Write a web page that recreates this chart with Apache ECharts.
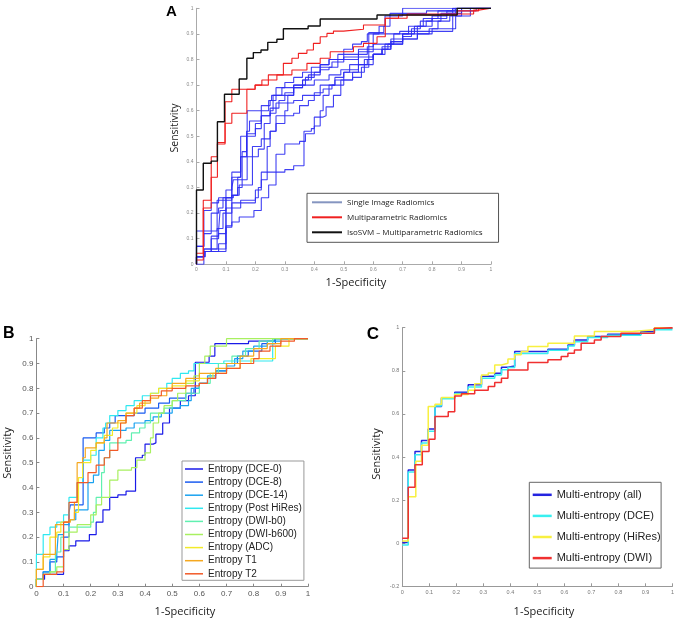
<!DOCTYPE html>
<html><head><meta charset="utf-8">
<script src="https://cdn.jsdelivr.net/npm/echarts@6/dist/echarts.min.js"></script>
<style>html,body{margin:0;padding:0;background:#fff}#c{width:677px;height:620px}</style>
</head><body><div id="c"></div><script>
// ---- Panel B entropy ROC curves (also the blue single-image curves of panel A) ----
const dce0 = [[0,0],[0,0.03],[0.03,0.05],[0.1,0.145],[0.12,0.165],[0.145,0.185],[0.195,0.21],[0.22,0.26],[0.245,0.31],[0.27,0.36],[0.3,0.37],[0.33,0.385],[0.365,0.41],[0.365,0.52],[0.39,0.53],[0.4,0.575],[0.43,0.58],[0.44,0.615],[0.465,0.66],[0.49,0.72],[0.53,0.75],[0.56,0.77],[0.585,0.81],[0.585,0.905],[0.636,0.93],[0.657,0.98],[0.781,0.99],[0.878,1],[1,1]];
const dce8 = [[0,0],[0,0.03],[0.025,0.06],[0.05,0.1],[0.075,0.12],[0.1,0.2],[0.12,0.3],[0.125,0.33],[0.172,0.6],[0.22,0.62],[0.25,0.64],[0.27,0.66],[0.29,0.69],[0.36,0.7],[0.4,0.72],[0.45,0.74],[0.49,0.76],[0.55,0.78],[0.58,0.8],[0.6,0.82],[0.63,0.84],[0.66,0.87],[0.7,0.9],[0.74,0.93],[0.78,0.95],[0.83,0.98],[0.88,1],[1,1]];
const dce14 = [[0,0],[0,0.03],[0.025,0.06],[0.05,0.11],[0.075,0.13],[0.08,0.21],[0.1,0.25],[0.12,0.27],[0.145,0.31],[0.17,0.31],[0.19,0.42],[0.21,0.45],[0.23,0.55],[0.25,0.59],[0.27,0.63],[0.33,0.64],[0.36,0.66],[0.4,0.67],[0.43,0.685],[0.46,0.7],[0.5,0.72],[0.53,0.73],[0.56,0.75],[0.57,0.8],[0.6,0.82],[0.63,0.85],[0.66,0.87],[0.7,0.89],[0.73,0.92],[0.76,0.95],[0.8,0.97],[0.85,0.99],[0.9,1],[1,1]];
const postHiRes = [[0,0],[0,0.13],[0.025,0.21],[0.05,0.24],[0.075,0.26],[0.1,0.29],[0.12,0.36],[0.14,0.36],[0.15,0.42],[0.17,0.51],[0.2,0.53],[0.22,0.6],[0.245,0.64],[0.255,0.66],[0.27,0.69],[0.3,0.71],[0.33,0.73],[0.36,0.75],[0.39,0.77],[0.42,0.78],[0.45,0.8],[0.48,0.82],[0.5,0.84],[0.53,0.86],[0.56,0.87],[0.58,0.9],[0.69,0.91],[0.87,1],[1,1]];
const dwiB0 = [[0,0],[0,0.03],[0.025,0.05],[0.05,0.06],[0.07,0.14],[0.09,0.2],[0.1,0.22],[0.12,0.24],[0.2,0.26],[0.21,0.3],[0.22,0.36],[0.24,0.46],[0.25,0.52],[0.27,0.58],[0.33,0.59],[0.35,0.62],[0.38,0.64],[0.4,0.66],[0.42,0.7],[0.47,0.72],[0.5,0.75],[0.55,0.78],[0.6,0.82],[0.64,0.86],[0.67,0.9],[0.72,0.93],[0.77,0.96],[0.82,0.99],[0.87,1],[1,1]];
const dwiB600 = [[0,0],[0,0.03],[0.025,0.05],[0.05,0.06],[0.075,0.08],[0.1,0.15],[0.12,0.22],[0.15,0.25],[0.2,0.29],[0.22,0.33],[0.24,0.36],[0.27,0.36],[0.27,0.43],[0.3,0.47],[0.35,0.48],[0.37,0.51],[0.4,0.54],[0.42,0.6],[0.43,0.66],[0.45,0.7],[0.47,0.73],[0.5,0.75],[0.52,0.78],[0.55,0.82],[0.58,0.85],[0.6,0.9],[0.62,0.93],[0.64,0.97],[0.7,1],[1,1]];
const adc = [[0,0],[0,0.07],[0.025,0.12],[0.05,0.2],[0.075,0.22],[0.09,0.26],[0.12,0.27],[0.14,0.3],[0.155,0.44],[0.17,0.5],[0.2,0.55],[0.22,0.58],[0.25,0.61],[0.28,0.64],[0.3,0.66],[0.33,0.7],[0.37,0.73],[0.4,0.75],[0.42,0.78],[0.45,0.8],[0.5,0.81],[0.55,0.83],[0.6,0.84],[0.65,0.86],[0.7,0.88],[0.75,0.9],[0.79,0.92],[0.88,0.97],[0.93,1],[1,1]];
const t1 = [[0,0],[0,0.07],[0.025,0.13],[0.05,0.13],[0.07,0.25],[0.1,0.26],[0.125,0.27],[0.14,0.34],[0.15,0.5],[0.17,0.52],[0.18,0.56],[0.22,0.58],[0.25,0.6],[0.26,0.66],[0.3,0.67],[0.33,0.7],[0.36,0.72],[0.38,0.74],[0.42,0.76],[0.45,0.77],[0.48,0.8],[0.5,0.82],[0.55,0.84],[0.6,0.86],[0.66,0.88],[0.7,0.9],[0.75,0.93],[0.8,0.96],[0.85,0.98],[0.9,1],[1,1]];
const t2 = [[0,0],[0,0],[0.025,0.05],[0.075,0.06],[0.1,0.17],[0.1,0.26],[0.12,0.34],[0.14,0.34],[0.15,0.42],[0.19,0.46],[0.22,0.49],[0.25,0.52],[0.27,0.55],[0.3,0.6],[0.31,0.66],[0.33,0.69],[0.36,0.72],[0.39,0.75],[0.42,0.77],[0.46,0.79],[0.5,0.8],[0.55,0.81],[0.6,0.82],[0.63,0.84],[0.66,0.86],[0.7,0.88],[0.75,0.9],[0.8,0.92],[0.82,0.95],[0.86,0.97],[0.9,0.99],[0.95,1],[1,1]];
const entropyNames = ['Entropy (DCE-0)','Entropy (DCE-8)','Entropy (DCE-14)','Entropy (Post HiRes)','Entropy (DWI-b0)','Entropy (DWI-b600)','Entropy (ADC)','Entropy T1','Entropy T2'];
const entropyCurves = [dce0, dce8, dce14, postHiRes, dwiB0, dwiB600, adc, t1, t2];

// ---- Panel A multiparametric curves ----
const multiA1 = [[0,0],[0,0.043],[0.023,0.25],[0.05,0.42],[0.071,0.476],[0.097,0.635],[0.12,0.684],[0.199,0.70],[0.222,0.72],[0.244,0.74],[0.295,0.785],[0.324,0.805],[0.346,0.824],[0.375,0.837],[0.397,0.863],[0.42,0.889],[0.443,0.902],[0.465,0.911],[0.499,0.918],[0.567,0.935],[0.641,0.961],[0.715,0.978],[0.941,0.993],[0.958,1],[1,1]];
const multiA2 = [[0,0],[0,0.017],[0.023,0.22],[0.05,0.34],[0.071,0.47],[0.097,0.551],[0.12,0.59],[0.171,0.684],[0.199,0.70],[0.244,0.72],[0.273,0.74],[0.324,0.759],[0.375,0.785],[0.42,0.805],[0.454,0.83],[0.533,0.85],[0.567,0.863],[0.613,0.889],[0.641,0.961],[0.686,0.974],[0.885,0.99],[0.958,1],[1,1]];
const isoSVM = [[0,0],[0,0.29],[0.023,0.395],[0.05,0.403],[0.071,0.557],[0.095,0.664],[0.145,0.724],[0.171,0.805],[0.193,0.827],[0.219,0.837],[0.242,0.867],[0.273,0.879],[0.295,0.92],[0.379,0.931],[0.42,0.958],[0.613,0.974],[0.885,1.0],[1,1]];

// ---- Panel C multi-entropy curves ----
const multiAll = [[0,0.003],[0.022,0.34],[0.047,0.425],[0.071,0.476],[0.096,0.53],[0.121,0.634],[0.145,0.675],[0.194,0.7],[0.244,0.735],[0.293,0.775],[0.342,0.789],[0.367,0.816],[0.391,0.822],[0.416,0.889],[0.539,0.9],[0.613,0.92],[0.637,0.943],[0.686,0.959],[0.76,0.97],[0.883,0.982],[0.933,0.997],[1,0.997]];
const multiDCE = [[0,-0.008],[0.022,0.33],[0.047,0.41],[0.071,0.465],[0.096,0.52],[0.121,0.637],[0.145,0.67],[0.194,0.695],[0.244,0.725],[0.293,0.765],[0.342,0.78],[0.367,0.805],[0.391,0.815],[0.416,0.88],[0.539,0.895],[0.613,0.915],[0.637,0.935],[0.686,0.955],[0.76,0.965],[0.883,0.975],[0.933,0.99],[1,0.99]];
const multiHiRes = [[0,0.01],[0.022,0.216],[0.05,0.38],[0.071,0.455],[0.096,0.634],[0.121,0.645],[0.145,0.676],[0.194,0.69],[0.244,0.71],[0.268,0.74],[0.293,0.78],[0.318,0.79],[0.342,0.827],[0.367,0.835],[0.391,0.855],[0.416,0.874],[0.44,0.89],[0.465,0.913],[0.539,0.928],[0.637,0.962],[0.711,0.982],[0.85,0.99],[0.933,1],[1,1]];
const multiDWI = [[0,0.023],[0.022,0.26],[0.047,0.364],[0.074,0.425],[0.099,0.482],[0.121,0.588],[0.17,0.61],[0.194,0.683],[0.219,0.694],[0.268,0.71],[0.318,0.727],[0.342,0.746],[0.367,0.766],[0.391,0.804],[0.465,0.838],[0.539,0.851],[0.588,0.866],[0.613,0.881],[0.637,0.897],[0.662,0.928],[0.711,0.943],[0.736,0.959],[0.809,0.974],[0.933,0.997],[0.951,1],[1,1]];
const multiNames = ['Multi-entropy (all)','Multi-entropy (DCE)','Multi-entropy (HiRes)','Multi-entropy (DWI)'];
const multiCurves = [multiAll, multiDCE, multiHiRes, multiDWI];

const legendA = ['Single Image Radiomics','Multiparametric Radiomics','IsoSVM \u2013 Multiparametric Radiomics'];

// ---- styling ----
const jet = ['#1a1ae8','#1a5cf0','#1aa2f0','#30e8f0','#60f0b0','#a8f060','#f2ea2a','#f5a820','#f25a28'];
const cCols = ['#2424e0','#38f0f0','#f8f040','#f03030'];
const tickFont = 'Liberation Sans, Arial, sans-serif';
const titleFont = '"Open Sans", sans-serif';

function ax(g, fs, lc, col, min, interval){
  return {type:'value', gridIndex:g, min:min, max:1, interval:interval,
    axisLine:{show:true, onZero:false, lineStyle:{color:lc, width:1}},
    axisTick:{show:true, inside:true, length:3, lineStyle:{color:lc}},
    axisLabel:{fontSize:fs, color:col, margin:3, fontFamily:tickFont},
    splitLine:{show:false}};
}
function line(name, data, g, color, w, opacity){
  return {type:'line', name:name, xAxisIndex:g, yAxisIndex:g, data:data, step:'end',
    showSymbol:false, symbol:'none', silent:true, animation:false,
    itemStyle:{color:color}, lineStyle:{color:color, width:w, opacity:opacity==null?1:opacity}};
}

const series = [];
entropyCurves.forEach(d => series.push(line(legendA[0], d, 0, '#2b2bf2', 1.1, 0.9)));
series.push(line(legendA[1], multiA2, 0, '#f02020', 1.1));
series.push(line(legendA[1], multiA1, 0, '#f02020', 1.1));
series.push(line(legendA[2], isoSVM, 0, '#111111', 1.4));
entropyCurves.forEach((d,i) => series.push(line(entropyNames[i], d, 1, jet[i], 1.2)));
multiCurves.forEach((d,i) => series.push(line(multiNames[i], d, 2, cCols[i], 1.5)));

const chart = echarts.init(document.getElementById('c'), null, {renderer:'canvas'});
chart.setOption({
  backgroundColor:'#fff',
  animation:false,
  grid:[
    {left:196.5, top:8.3, width:294.5, height:256},
    {left:36.4, top:338.7, width:271.6, height:248},
    {left:402.3, top:327.7, width:271, height:258.6}
  ],
  xAxis:[ax(0,5,'#aaa','#888',0,0.1), ax(1,8,'#888','#555',0,0.1), ax(2,5.5,'#999','#777',0,0.1)],
  yAxis:[ax(0,5,'#aaa','#888',0,0.1), ax(1,8,'#888','#555',0,0.1), ax(2,5.5,'#999','#777',-0.2,0.2)],
  legend:[
    {orient:'vertical', left:307, top:193.3, padding:[4,16,5,5], itemGap:5, itemWidth:30, itemHeight:2,
     itemTextGap:4, icon:'rect', borderColor:'#555', borderWidth:1, selectedMode:false,
     textStyle:{fontSize:8, fontFamily:titleFont, color:'#222', lineHeight:10},
     data:[{name:legendA[0], itemStyle:{color:'#8595c0'}}, {name:legendA[1], itemStyle:{color:'#f02020'}}, {name:legendA[2], itemStyle:{color:'#111'}}]},
    {orient:'vertical', left:182, top:461, padding:[2.5,2,1,3], itemGap:2.1, itemWidth:18, itemHeight:1.5,
     itemTextGap:1.5, icon:'rect', borderColor:'#999', borderWidth:1, selectedMode:false,
     textStyle:{fontSize:10, fontFamily:tickFont, color:'#222', lineHeight:11},
     data:entropyNames.map((n,i)=>({name:n, itemStyle:{color:jet[i]}}))},
    {orient:'vertical', left:529.3, top:482.3, padding:[6,0.5,3.5,3.4], itemGap:8.1, itemWidth:19, itemHeight:2.5,
     itemTextGap:1.6, icon:'rect', borderColor:'#666', borderWidth:1, selectedMode:false,
     textStyle:{fontSize:11, fontFamily:tickFont, color:'#222', lineHeight:13},
     data:multiNames.map((n,i)=>({name:n, itemStyle:{color:cCols[i]}}))}
  ],
  graphic:[
    {type:'text', x:171.5, y:12, style:{text:'A', font:'bold 15px Liberation Sans, Arial', fill:'#000', align:'center', verticalAlign:'middle'}},
    {type:'text', x:8.7, y:334, style:{text:'B', font:'bold 16px Liberation Sans, Arial', fill:'#000', align:'center', verticalAlign:'middle'}},
    {type:'text', x:373, y:334.5, style:{text:'C', font:'bold 17px Liberation Sans, Arial', fill:'#000', align:'center', verticalAlign:'middle'}},
    {type:'text', x:175, y:128, rotation:Math.PI/2, style:{text:'Sensitivity', font:'10.5px "Open Sans"', fill:'#222', align:'center', verticalAlign:'middle'}},
    {type:'text', x:356, y:283, style:{text:'1-Specificity', font:'11px "Open Sans"', fill:'#222', align:'center', verticalAlign:'middle'}},
    {type:'text', x:7.5, y:453, rotation:Math.PI/2, style:{text:'Sensitivity', font:'11px "Open Sans"', fill:'#222', align:'center', verticalAlign:'middle'}},
    {type:'text', x:185, y:611.7, style:{text:'1-Specificity', font:'11px "Open Sans"', fill:'#222', align:'center', verticalAlign:'middle'}},
    {type:'text', x:377, y:454, rotation:Math.PI/2, style:{text:'Sensitivity', font:'11px "Open Sans"', fill:'#222', align:'center', verticalAlign:'middle'}},
    {type:'text', x:544, y:611.7, style:{text:'1-Specificity', font:'11px "Open Sans"', fill:'#222', align:'center', verticalAlign:'middle'}}
  ],
  series:series
});
</script></body></html>
